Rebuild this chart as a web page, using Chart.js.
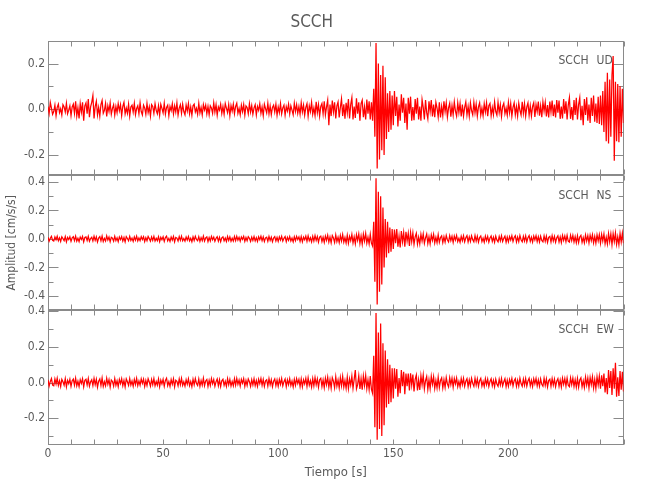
<!DOCTYPE html>
<html><head><meta charset="utf-8">
<script src="https://cdn.jsdelivr.net/npm/chart.js@4"></script>
<style>html,body{margin:0;padding:0;background:#fff}</style>
</head><body>
<canvas id="c" width="650" height="500"></canvas>
<script>
// sample interval of the traces [s]
const dt = 0.5;
const station = 'SCCH';
const components = ['UD', 'NS', 'EW'];
// UD component, cm/s/s, one value every dt seconds from t = 0
const ud = [
.012,-.018,.03,.005,-.022,-.01,.018,-.028,.008,.022,-.015,.002,-.025,.02,.01,-.012,.026,-.02,-.004,.015,
-.028,.01,.022,-.018,.035,-.03,.006,-.04,.025,-.012,.03,-.05,.015,.028,-.02,.045,-.035,.01,.03,.06,
-.04,.012,.035,-.025,.008,-.03,.02,.038,-.018,-.005,.025,-.032,.015,-.01,.028,-.022,.004,.02,-.026,.012,
-.015,.025,-.006,.02,-.028,.012,.03,-.02,.005,-.018,.022,-.03,.01,.018,-.012,.026,-.024,.003,.015,-.02,
.028,-.01,-.025,.018,.006,-.022,.025,-.015,.01,-.03,.02,.012,-.018,.024,-.005,-.02,.015,-.026,.022,.004,
-.016,.026,-.022,.008,.018,-.028,.012,-.006,.024,-.02,.015,-.012,.028,-.025,.005,.02,-.018,.022,-.01,-.024,
.018,-.008,.025,-.02,.01,-.026,.015,.022,-.012,.004,-.022,.026,-.016,.008,-.025,.02,-.003,.018,-.02,.012,
-.024,.015,.006,-.018,.028,-.012,.02,-.026,.01,-.004,.022,-.018,.012,-.022,.025,.005,-.015,.02,-.028,.016,
-.008,.022,-.02,.012,.026,-.018,.004,-.024,.018,-.01,.02,-.026,.015,.008,-.02,.024,-.012,.016,-.022,.006,
.02,-.025,.012,-.005,.024,-.018,.01,-.028,.022,.003,-.016,.026,-.02,.014,-.024,.008,.018,-.012,.022,-.026,
.01,-.015,.025,-.02,.006,.018,-.026,.012,-.008,.022,-.02,.015,-.004,-.024,.026,-.01,.02,-.018,.012,-.022,
.028,-.012,.018,-.026,.008,.024,-.03,.015,-.01,.03,-.022,.006,-.028,.032,-.015,.02,-.03,.012,.025,-.02,
.035,-.025,.01,.04,-.07,.02,-.03,.038,-.012,.03,-.04,.015,.032,-.036,.008,.045,-.03,.022,-.042,.028,
-.015,.045,-.04,.02,.05,-.045,.012,-.038,.048,-.02,.03,-.05,.025,.04,-.035,.01,-.045,.042,-.02,.035,
-.045,.03,-.05,.09,-.12,.29,-.26,.2,-.22,.15,-.18,.19,-.2,.14,-.13,.07,-.1,.08,-.09,.06,
-.07,.08,-.03,.055,-.075,.02,-.05,.065,-.015,.05,-.06,.025,-.09,.05,-.02,.055,-.05,.01,-.048,.045,
-.02,.05,-.045,.012,-.05,.042,.008,-.045,.04,-.015,-.042,.035,-.01,.04,-.032,.02,-.035,.03,.005,-.034,
.03,-.036,.012,-.028,.035,-.01,.028,-.034,.006,.026,-.033,.015,-.025,.032,-.008,-.03,.028,-.015,.025,-.032,
.02,-.03,.008,.032,-.025,.012,-.03,.028,-.006,-.024,.03,-.015,.022,-.03,.01,.028,-.026,.005,-.028,.024,
-.012,.028,-.03,.015,.025,-.028,.008,-.024,.032,-.01,-.026,.03,-.015,.02,-.032,.012,.026,-.02,.005,-.026,
.03,-.015,.025,-.03,.008,.028,-.024,.012,-.03,.026,-.005,-.025,.032,-.018,.024,-.03,.01,.028,-.026,.015,
-.03,.012,.028,-.034,.02,-.01,.034,-.028,.015,-.035,.032,-.008,.03,-.032,.018,-.036,.034,-.012,.038,-.03,
.02,-.036,.04,-.015,.038,-.042,.012,-.04,.045,-.02,.035,-.045,.018,.05,-.042,.01,-.048,.04,-.025,.05,
-.045,.02,.05,-.048,.015,-.07,.045,-.025,.052,-.05,.02,-.06,.05,-.03,.06,-.055,.025,-.06,.055,-.065,
.06,-.07,.08,-.1,.12,-.14,.16,-.15,.13,-.12,.15,.233,-.226,.12,-.14,.11,-.145,.1,-.12,.09,
-.06];
// NS component
const ns = [
.012,-.016,.004,.018,-.01,-.015,.014,-.006,.019,-.013,.008,-.018,.015,.002,-.012,.017,-.02,.01,-.005,.015,
-.017,.008,.016,-.012,.02,-.015,.005,-.018,.013,-.004,.017,-.02,.01,.014,-.011,.018,-.016,.003,.012,-.014,
.019,-.01,.015,-.022,.006,.016,-.013,.02,-.018,.004,-.015,.021,-.008,.013,-.02,.011,.005,-.016,.018,-.012,
.008,-.019,.014,-.005,.017,-.015,.01,-.02,.016,.003,-.013,.018,-.011,.006,-.017,.014,-.009,.019,-.014,.007,
-.012,.016,-.004,.015,-.018,.009,-.013,.017,.002,-.016,.014,-.01,.018,-.015,.005,-.012,.016,-.019,.011,-.006,
.015,-.017,.01,.02,-.014,.004,-.018,.013,-.008,.017,-.02,.011,.006,-.015,.016,-.01,.019,-.013,.003,-.016,
.013,-.008,.017,-.014,.005,-.019,.015,-.011,.018,-.004,-.013,.016,-.017,.009,-.012,.02,-.015,.007,.014,-.018,
.01,-.014,.018,-.006,.013,-.017,.004,.016,-.015,.012,-.019,.008,.015,-.013,.006,-.018,.017,-.01,.014,-.016,
.005,-.015,.017,-.012,.019,-.008,.011,-.016,.014,-.003,.018,-.017,.01,-.013,.016,.004,-.018,.013,-.011,.017,
-.014,.009,-.017,.015,-.005,.019,-.012,.014,-.018,.007,.012,-.016,.018,-.01,.013,-.019,.006,.016,-.014,.011,
-.017,.014,-.008,.018,-.015,.004,.016,-.019,.012,-.01,.017,-.014,.006,-.02,.015,-.012,.018,-.005,.014,-.018,
.016,-.02,.012,-.006,.019,-.017,.022,-.012,.008,-.021,.018,-.015,.023,-.01,.017,-.022,.013,.02,-.018,.012,
-.024,.02,-.01,.026,-.022,.014,-.027,.023,.006,-.025,.028,-.018,.012,-.026,.024,-.015,.03,-.022,.01,-.028,
.026,-.03,.018,-.012,.032,-.028,.015,-.034,.03,-.01,.035,-.032,.02,-.036,.033,-.015,.038,-.03,.012,-.035,
.032,-.03,-.05,.12,-.3,.426,-.46,.33,-.37,.3,-.32,.22,-.2,.14,-.13,.12,-.1,.08,-.09,.07,
-.07,.065,-.03,.07,-.055,.02,-.06,.055,-.02,.045,-.055,.05,-.015,.04,-.05,.045,-.02,.042,-.038,.015,
.04,-.036,.012,-.035,.032,-.015,.035,-.03,.008,.034,-.032,.015,-.034,.028,-.01,.032,-.028,.012,-.026,.029,
-.024,.01,.022,-.025,.015,-.022,.024,-.006,-.021,.023,-.012,.018,-.024,.02,-.008,.025,-.018,.005,-.023,.019,
-.012,.022,-.02,.008,.023,-.021,.014,-.018,.022,-.005,-.02,.024,-.015,.019,-.022,.01,.021,-.019,.006,-.023,
.02,-.012,.018,-.022,.006,.021,-.017,.012,-.023,.019,-.008,-.021,.017,-.014,.022,-.018,.004,.02,-.023,.013,
-.02,.016,-.008,.022,-.018,.01,.023,-.021,.013,-.019,.024,-.006,-.02,.018,-.015,.022,-.021,.009,.024,-.017,
.012,-.022,.02,-.007,.023,-.018,.015,-.021,.019,-.01,-.02,.022,-.016,.02,-.024,.011,.018,-.021,.023,-.014,
.018,-.023,.008,.022,-.021,.014,-.025,.024,-.01,.021,-.019,.025,-.015,-.022,.026,-.012,.024,-.021,.016,-.026,
.022,-.026,.014,.025,-.024,.01,-.027,.028,-.015,.023,-.028,.026,-.012,.029,-.027,.018,-.03,.028,-.014,.03,
-.03,.032,-.015,.035,-.033,.012,-.036,.038,-.02,.035,-.04,.036,-.018,.042,-.038,.015,-.04,.038,-.022,.04,
-.03];
// EW component
const ew = [
.015,-.02,.006,.022,-.014,-.018,.02,-.008,.024,-.016,.01,-.022,.018,.004,-.015,.021,-.024,.012,-.006,.018,
-.021,.01,.019,-.015,.024,-.019,.007,-.022,.016,-.005,.021,-.024,.012,.018,-.014,.022,-.02,.004,.015,-.017,
.023,-.012,.018,-.026,.008,.02,-.016,.025,-.022,.005,-.018,.024,-.01,.016,-.025,.014,.006,-.02,.022,-.015,
.01,-.023,.017,-.006,.021,-.018,.012,-.024,.02,.004,-.016,.022,-.014,.008,-.021,.017,-.011,.023,-.017,.009,
-.015,.02,-.005,.019,-.022,.011,-.016,.021,.003,-.02,.017,-.012,.022,-.018,.006,-.015,.02,-.023,.013,-.008,
.018,-.021,.012,.024,-.017,.005,-.022,.016,-.01,.021,-.024,.013,.007,-.018,.02,-.012,.023,-.016,.004,-.02,
.016,-.01,.021,-.017,.006,-.023,.018,-.013,.022,-.005,-.016,.02,-.021,.011,-.015,.024,-.018,.009,.017,-.022,
.012,-.017,.022,-.007,.016,-.021,.005,.02,-.018,.015,-.023,.01,.018,-.016,.007,-.022,.021,-.012,.017,-.02,
.006,-.018,.021,-.015,.023,-.01,.014,-.02,.017,-.004,.022,-.021,.012,-.016,.02,.005,-.022,.016,-.013,.021,
-.017,.011,-.021,.018,-.006,.023,-.015,.017,-.022,.009,.015,-.02,.022,-.012,.016,-.023,.007,.02,-.017,.014,
-.021,.017,-.01,.022,-.018,.005,.02,-.023,.015,-.012,.021,-.017,.008,-.024,.018,-.015,.022,-.006,.017,-.022,
.02,-.024,.015,-.008,.023,-.021,.026,-.015,.01,-.025,.022,-.018,.027,-.012,.02,-.026,.016,.024,-.022,.015,
-.028,.024,-.012,.03,-.026,.016,-.031,.027,.008,-.029,.032,-.02,.014,-.03,.028,-.018,.034,-.025,.012,-.032,
.03,-.034,.02,-.014,.036,-.032,.018,.07,-.035,-.012,.038,-.036,.022,-.04,.036,-.016,.04,-.034,.014,-.04,
.036,-.038,-.06,.15,-.25,.39,-.32,.28,-.26,.33,-.3,.22,-.24,.18,-.14,.13,-.12,.1,-.11,.08,
-.09,.08,-.035,.075,-.08,.025,-.06,.07,-.02,.06,-.065,.05,-.02,.05,-.045,.052,-.015,.045,-.05,.018,
.042,-.045,.015,-.042,.038,-.012,.042,-.036,.01,.034,-.038,.015,-.034,.035,-.01,.032,-.033,.012,-.03,.03,
-.028,.012,.026,-.03,.015,-.027,.028,-.008,-.025,.026,-.012,.024,-.026,.022,-.008,.025,-.023,.006,-.024,.022,
-.012,.023,-.021,.008,.022,-.023,.014,-.019,.023,-.005,-.021,.024,-.015,.02,-.022,.01,.023,-.02,.006,-.022,
.021,-.012,.019,-.022,.006,.021,-.018,.012,-.023,.019,-.008,-.021,.018,-.014,.022,-.019,.004,.021,-.023,.013,
-.021,.017,-.008,.023,-.019,.01,.022,-.021,.013,-.02,.024,-.006,-.021,.019,-.015,.022,-.02,.009,.024,-.018,
.012,-.022,.021,-.007,.023,-.019,.015,-.021,.02,-.01,-.021,.023,-.016,.02,-.024,.011,.019,-.021,.022,-.014,
.019,-.023,.008,.022,-.021,.014,-.025,.024,-.01,.022,-.02,.025,-.015,-.023,.026,-.012,.024,-.022,.016,-.026,
.023,-.026,.014,.026,-.024,.01,-.028,.03,-.015,.025,-.03,.028,-.012,.032,-.03,.018,-.034,.032,-.014,.036,
-.035,.04,-.02,.05,-.055,.025,-.065,.07,-.03,.065,-.07,.08,-.035,.11,-.08,.03,-.075,.065,-.04,.06,
-.05];
// axis ranges and tick labels
const xRange = [0, 250];
const xTickLabels = [0, 50, 100, 150, 200];
const udRange = [-0.29, 0.30];
const nsRange = [-0.50, 0.445];
const ewRange = [-0.35, 0.405];
const udTicks = [-0.2, 0, 0.2];
const nsTicks = [-0.4, -0.2, 0, 0.2, 0.4];
const ewTicks = [-0.2, 0, 0.2, 0.4];

const FONT = "'Liberation Sans Narrow','DejaVu Sans Condensed','Arial Narrow',sans-serif";
const TXT = '#5a5a5a';
const AX = '#8a8a8a';
const RED = '#ff0000';

const toPts = arr => arr.map((v, i) => ({x: i * dt, y: v}));
const fmtY = v => (v < 0 ? '-' : '') + Math.abs(v).toFixed(1);

function yScale(range, ticks, title) {
  return {
    type: 'linear', position: 'left', stack: 'panels', stackWeight: 1,
    min: range[0], max: range[1],
    grid: {display: false, drawTicks: false}, border: {display: false},
    ticks: {color: TXT, font: {family: FONT, size: 12}, padding: 3, callback: fmtY},
    afterBuildTicks: s => { s.ticks = ticks.map(v => ({value: v})); },
    afterFit: s => { s.width = 48; },
    title: title ? {display: true, text: title, color: TXT, font: {family: FONT, size: 12}, padding: {top: 5, bottom: 0}} : {display: false}
  };
}

const panelIds = ['yUD', 'yNS', 'yEW'];

const framePlugin = {
  id: 'frames',
  beforeDatasetsDraw(chart) {
    const {ctx, chartArea} = chart;
    const xs = chart.scales.x;
    const L = Math.round(chartArea.left) + 0.5, R = Math.round(chartArea.right) - 0.5;
    ctx.save();
    ctx.strokeStyle = AX; ctx.lineWidth = 1;
    panelIds.forEach(id => {
      const s = chart.scales[id];
      const T = Math.round(s.top) + 0.5, B = Math.round(s.bottom) - 0.5;
      ctx.strokeRect(L, T, R - L, B - T);
      ctx.beginPath();
      for (let t = xRange[0]; t <= xRange[1]; t += 10) {
        const px = Math.round(xs.getPixelForValue(t)) + 0.5;
        ctx.moveTo(px, T); ctx.lineTo(px, T + 5);
        ctx.moveTo(px, B); ctx.lineTo(px, B - 5);
      }
      const k0 = Math.ceil(s.min * 10 - 1e-6), k1 = Math.floor(s.max * 10 + 1e-6);
      for (let k = k0; k <= k1; k++) {
        const py = Math.round(s.getPixelForValue(k / 10)) + 0.5;
        const len = (k % 2 === 0) ? 10 : 5;
        ctx.moveTo(L, py); ctx.lineTo(L + len, py);
        ctx.moveTo(R, py); ctx.lineTo(R - len, py);
      }
      ctx.stroke();
    });
    ctx.restore();
  },
  afterDatasetsDraw(chart) {
    const {ctx, chartArea} = chart;
    ctx.save();
    ctx.fillStyle = TXT;
    ctx.font = '12px ' + FONT;
    ctx.textBaseline = 'middle';
    ctx.textAlign = 'left';
    panelIds.forEach((id, k) => {
      const s = chart.scales[id];
      ctx.fillText(station, chartArea.right - 65, s.top + 20);
      ctx.fillText(components[k], chartArea.right - 27, s.top + 20);
    });
    ctx.restore();
  }
};

const ds = (data, axis) => ({
  data: toPts(data), yAxisID: axis, borderColor: RED, borderWidth: 1.25,
  pointRadius: 0, tension: 0, fill: false
});

new Chart(document.getElementById('c'), {
  type: 'line',
  data: {datasets: [ds(ud, 'yUD'), ds(ns, 'yNS'), ds(ew, 'yEW')]},
  options: {
    responsive: false, animation: false, devicePixelRatio: 1,
    parsing: false, normalized: true,
    layout: {padding: {left: 0, right: 26.5, top: 0, bottom: 0}},
    plugins: {
      legend: {display: false}, tooltip: {enabled: false},
      title: {display: true, text: station, color: TXT, font: {family: FONT, size: 17, weight: 'normal'}, padding: {top: 12.5, bottom: 7.8}}
    },
    scales: {
      x: {
        type: 'linear', position: 'bottom', min: xRange[0], max: xRange[1],
        grid: {display: false, drawTicks: false}, border: {display: false},
        ticks: {color: TXT, font: {family: FONT, size: 12}, padding: 2, maxRotation: 0, autoSkip: false},
        afterBuildTicks: s => { s.ticks = xTickLabels.map(v => ({value: v})); },
        afterFit: s => { s.height = 55; },
        title: {display: true, text: 'Tiempo [s]', color: TXT, font: {family: FONT, size: 13}, padding: {top: 0, bottom: 20}}
      },
      // stacked axes are laid out bottom-up: the last one defined is the top panel
      yEW: yScale(ewRange, ewTicks),
      yNS: yScale(nsRange, nsTicks, 'Amplitud [cm/s/s]'),
      yUD: yScale(udRange, udTicks)
    }
  },
  plugins: [framePlugin]
});
</script>
</body></html>
